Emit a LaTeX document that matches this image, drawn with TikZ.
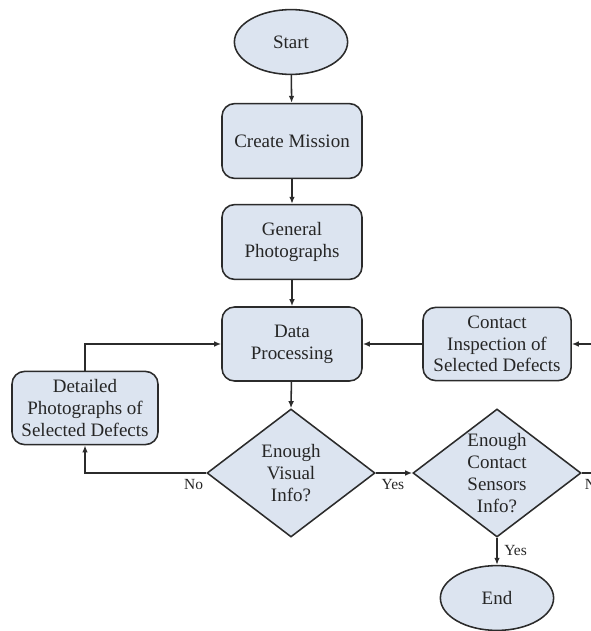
\documentclass[tikz,border=0pt]{standalone}
\usepackage{fontspec}
\setmainfont{Liberation Serif}
\usetikzlibrary{shapes.geometric,arrows.meta}

\definecolor{boxfill}{HTML}{DCE4F0}
\definecolor{edge}{HTML}{2B2B2B}

\tikzset{
  base/.style={draw=edge, line width=1.1pt, fill=boxfill, align=center,
    font=\fontsize{13.5}{15.5}\selectfont, text=black!85},
  stepbox/.style={base, rounded corners=9pt, inner sep=2pt},
  terminal/.style={base, ellipse, minimum width=2.83cm, minimum height=1.62cm, inner sep=0pt},
  decision/.style={base, diamond, minimum width=4.2cm, minimum height=3.2cm, inner sep=0pt},
  dtext/.style={align=center, font=\fontsize{13.5}{15.5}\selectfont, text=black!85},
  flow/.style={draw=edge, line width=1.1pt, -{Latex[length=5pt,width=4pt]}},
  tag/.style={font=\fontsize{11}{12}\selectfont, text=black!85, inner sep=1pt}
}

\begin{document}
\begin{tikzpicture}[x=0.025cm, y=-0.025cm]
  \useasboundingbox (0,0) rectangle (591,631);

  % main column
  \node[terminal] (start) at (291,42) {Start};
  \node[stepbox, minimum width=3.5cm, minimum height=1.87cm] (mission) at (292,141) {Create Mission};
  \node[stepbox, minimum width=3.5cm, minimum height=1.87cm] (general) at (292,242) {General\\Photographs};
  \node[stepbox, minimum width=3.5cm, minimum height=1.85cm] (process) at (292,344) {Data\\Processing};

  % side activities
  \node[stepbox, minimum width=3.7cm, minimum height=1.83cm] (contact) at (497,344) {Contact\\Inspection of\\Selected Defects};
  \node[stepbox, minimum width=3.65cm, minimum height=1.83cm] (detailed) at (85,408) {Detailed\\Photographs of\\Selected Defects};

  % decisions
  \node[decision] (visual) at (291,473) {};
  \node[dtext] (visualtxt) at (291,473) {Enough\\Visual\\Info?};
  \node[decision] (sensors) at (497,473) {};
  \node[dtext] (sensorstxt) at (497,473) {Enough\\Contact\\Sensors\\Info?};

  \node[terminal] (finish) at (497,598) {End};

  % loop corner beyond the right margin
  \coordinate (loopR) at (605,473);

  % connectors
  \draw[flow] (start) -- (mission);
  \draw[flow] (mission) -- (general);
  \draw[flow] (general) -- (process);
  \draw[flow] (process) -- (visual.north);
  \draw[flow] (visual.east) -- (sensors.west);
  \draw[flow] (sensors.south) -- (finish);
  \draw[flow] (visual.west) -| (detailed.south);
  \draw[flow] (detailed.north) |- (process.west);
  \draw[flow] (contact.west) -- (process.east);
  \draw[flow] (sensors.east) -- (loopR) |- (contact.east);

  % branch labels
  \node[tag, anchor=north east] (lblno1) at ([xshift=-1pt,yshift=-3pt]visual.west) {No};
  \node[tag, anchor=north west] (lblyes1) at ([xshift=3pt,yshift=-3pt]visual.east) {Yes};
  \node[tag, anchor=north west] (lblyes2) at ([xshift=4pt,yshift=-4pt]sensors.south) {Yes};
  \node[tag, anchor=north west] (lblno2) at ([xshift=1pt,yshift=-3pt]sensors.east) {No};
\end{tikzpicture}
\end{document}
